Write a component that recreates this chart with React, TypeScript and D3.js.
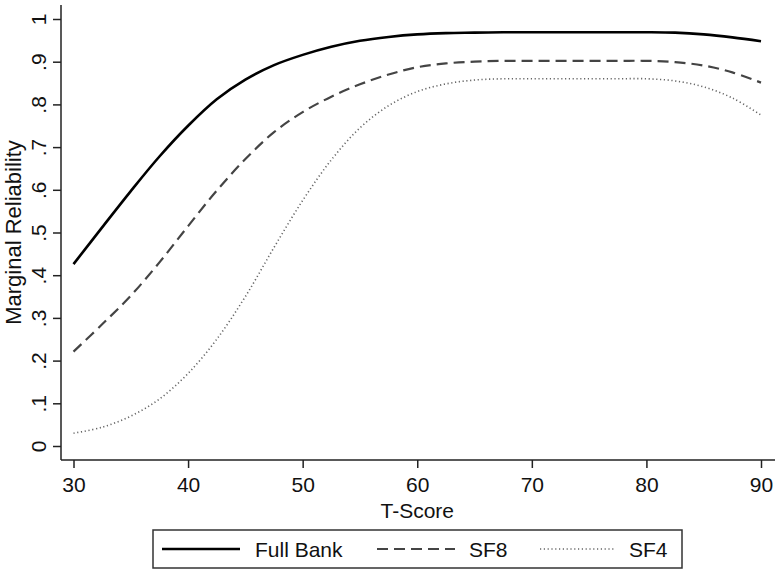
import React, { useEffect, useRef } from 'react';
import * as d3 from 'd3';

// T-score grid (x) and marginal reliability
const tScores = [30, 32.5, 35, 37.5, 40, 42.5, 45, 47.5, 50, 52.5, 55, 57.5, 60, 62.5, 65, 67.5, 70, 72.5, 75, 77.5, 80, 82.5, 85, 87.5, 90];
const fullBank = [0.426, 0.512, 0.597, 0.678, 0.75, 0.812, 0.858, 0.892, 0.916, 0.935, 0.949, 0.958, 0.964, 0.967, 0.968, 0.969, 0.969, 0.969, 0.969, 0.969, 0.969, 0.968, 0.964, 0.957, 0.948];
const sf8 = [0.221, 0.285, 0.352, 0.43, 0.515, 0.598, 0.672, 0.735, 0.782, 0.818, 0.847, 0.87, 0.887, 0.896, 0.9, 0.902, 0.902, 0.902, 0.902, 0.902, 0.902, 0.899, 0.891, 0.875, 0.851];
const sf4 = [0.03, 0.044, 0.07, 0.11, 0.17, 0.25, 0.35, 0.465, 0.575, 0.67, 0.745, 0.797, 0.83, 0.848, 0.857, 0.86, 0.86, 0.86, 0.86, 0.86, 0.86, 0.855, 0.841, 0.815, 0.775];

const seriesNames = ['Full Bank', 'SF8', 'SF4'];
const xTicks = [30, 40, 50, 60, 70, 80, 90];
const yTicks = [0, 0.1, 0.2, 0.3, 0.4, 0.5, 0.6, 0.7, 0.8, 0.9, 1];
const yTickLabels = ['0', '.1', '.2', '.3', '.4', '.5', '.6', '.7', '.8', '.9', '1'];

const FONT = '"Liberation Sans", Arial, sans-serif';

const App = () => {
  const svgRef = useRef<SVGSVGElement>(null);

  useEffect(() => {
    const svg = d3.select(svgRef.current);
    svg.selectAll('*').remove();

    const width = 780, height = 574;
    // plot region (axis lines) and data range
    const plot = { left: 61, right: 775, top: 5, bottom: 460 };

    const x = d3.scaleLinear().domain([30, 90]).range([73.5, 761]);
    const y = d3.scaleLinear().domain([0, 1]).range([446, 19]);

    svg.attr('width', width).attr('height', height);
    svg.append('rect').attr('width', width).attr('height', height).attr('fill', 'white');

    // axes
    const xAxis = d3.axisBottom(x).tickValues(xTicks).tickSize(8).tickSizeOuter(0)
      .tickFormat((d) => String(d));
    const gx = svg.append('g').attr('transform', `translate(0,${plot.bottom})`).call(xAxis);
    gx.select('.domain').remove();
    gx.selectAll('line').attr('stroke', '#222').attr('stroke-width', 1.5);
    gx.selectAll('text').attr('font-family', FONT).attr('font-size', 21).attr('fill', '#111')
      .attr('dy', '0.71em').attr('y', 17);

    const yAxis = d3.axisLeft(y).tickValues(yTicks).tickSize(8).tickSizeOuter(0)
      .tickFormat((d, i) => yTickLabels[i]);
    const gy = svg.append('g').attr('transform', `translate(${plot.left},0)`).call(yAxis);
    gy.select('.domain').remove();
    gy.selectAll('line').attr('stroke', '#222').attr('stroke-width', 1.5);
    gy.selectAll('text').attr('font-family', FONT).attr('font-size', 21).attr('fill', '#111')
      .attr('text-anchor', 'middle').attr('transform', 'rotate(-90)')
      .attr('x', 0).attr('y', -15).attr('dy', 0);

    // axis lines
    svg.append('line').attr('x1', plot.left).attr('x2', plot.left).attr('y1', plot.top).attr('y2', plot.bottom)
      .attr('stroke', '#222').attr('stroke-width', 1.5);
    svg.append('line').attr('x1', plot.left).attr('x2', plot.right).attr('y1', plot.bottom).attr('y2', plot.bottom)
      .attr('stroke', '#222').attr('stroke-width', 1.5);

    // axis titles
    svg.append('text').attr('x', (x(30) + x(90)) / 2).attr('y', 518).attr('text-anchor', 'middle')
      .attr('font-family', FONT).attr('font-size', 21).attr('fill', '#111').text('T-Score');
    svg.append('text').attr('transform', `translate(21,${(y(0) + y(1)) / 2}) rotate(-90)`)
      .attr('text-anchor', 'middle').attr('font-family', FONT).attr('font-size', 22).attr('fill', '#111')
      .text('Marginal Reliability');

    // curves
    const styles = [
      { values: fullBank, stroke: '#000', width: 2.6, dash: null },
      { values: sf8, stroke: '#444', width: 2.2, dash: '11,6' },
      { values: sf4, stroke: '#666', width: 1.6, dash: '1.2,2.6' },
    ];
    const line = d3.line<[number, number]>()
      .x((d) => x(d[0]))
      .y((d) => y(d[1]))
      .curve(d3.curveCatmullRom.alpha(0.5));

    styles.forEach((s) => {
      const pts: [number, number][] = tScores.map((t, i) => [t, s.values[i]]);
      svg.append('path').datum(pts).attr('d', line).attr('fill', 'none')
        .attr('stroke', s.stroke).attr('stroke-width', s.width)
        .attr('stroke-dasharray', s.dash);
    });

    // legend
    const legend = svg.append('g');
    legend.append('rect').attr('x', 153).attr('y', 530).attr('width', 529).attr('height', 38)
      .attr('fill', 'white').attr('stroke', '#333').attr('stroke-width', 1.5);
    const itemStarts = [162, 377, 540];
    const keyLen = [78, 78, 75];
    seriesNames.forEach((name, i) => {
      const s = styles[i];
      legend.append('line').attr('x1', itemStarts[i]).attr('x2', itemStarts[i] + keyLen[i])
        .attr('y1', 549).attr('y2', 549)
        .attr('stroke', s.stroke).attr('stroke-width', s.width).attr('stroke-dasharray', s.dash);
      legend.append('text').attr('x', itemStarts[i] + keyLen[i] + (i === 0 ? 15 : 14)).attr('y', 557)
        .attr('font-family', FONT).attr('font-size', 21).attr('fill', '#111').text(name);
    });
  }, []);

  return (
    <svg ref={svgRef} style={{ position: 'absolute', left: 0, top: 0, display: 'block' }} />
  );
};

export default App;
